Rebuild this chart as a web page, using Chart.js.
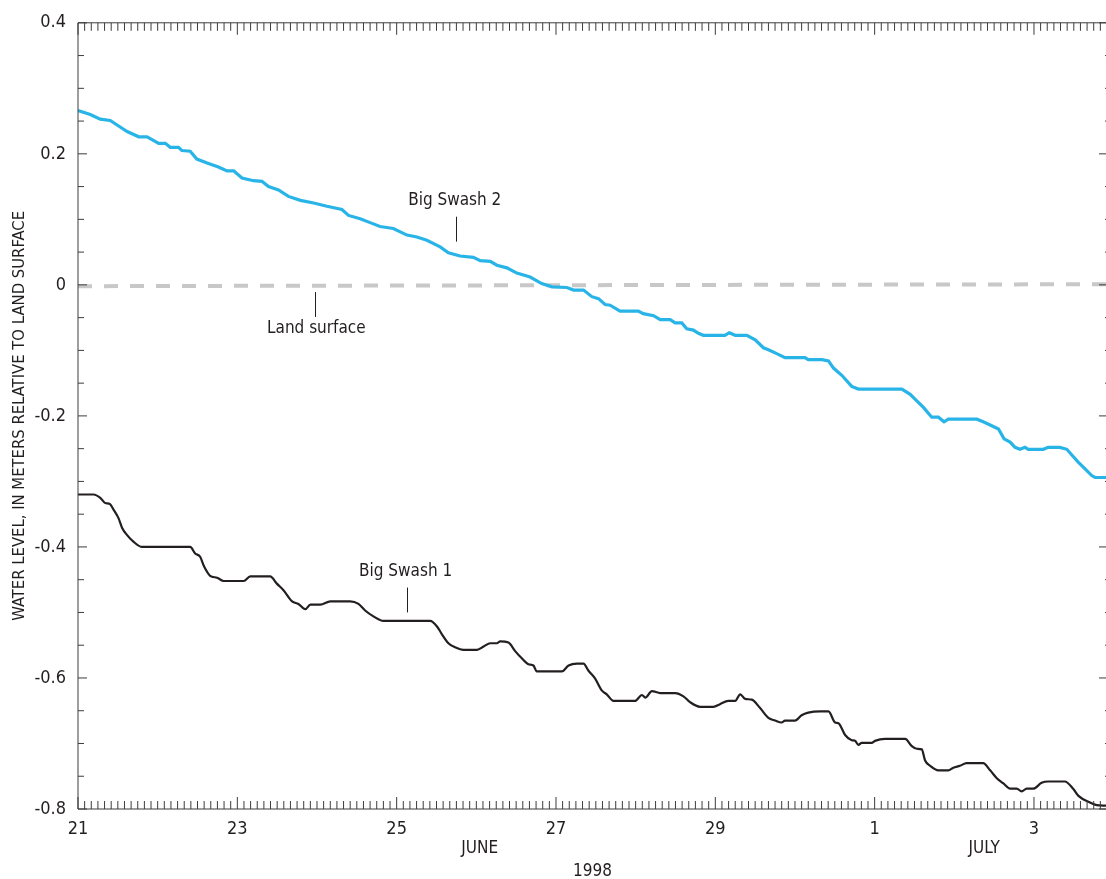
<!DOCTYPE html>
<html>
<head>
<meta charset="utf-8">
<title>Water level relative to land surface, Big Swash wells, June-July 1998</title>
<script src="https://cdn.jsdelivr.net/npm/chart.js@4.4.1/dist/chart.umd.min.js"></script>
<style>
  html, body { margin: 0; padding: 0; background: #ffffff; overflow: hidden; }
  #wrap { position: relative; width: 1106px; height: 879px; }
</style>
</head>
<body>
<div id="wrap"><canvas id="chart"></canvas></div>
<script>
// Time is counted in hours after 1998-06-21 00:00; levels are in meters relative to land surface.
const swash2Hours = [0, 3.7, 6.7, 9.7, 12.7, 14.8, 18.3, 20.8, 24.3, 26.3, 27.8, 30.3, 31.3, 33.8, 35.8, 38.9, 42.3, 44.9, 46.9, 49.4,
  52.9, 55.4, 57.4, 60.4, 63.4, 67.0, 71.0, 75.0, 79.5, 81.5, 85.0, 88.0, 91.0, 95.0, 99.1, 102.1, 105.1, 109.1, 111.6, 115.1,
  119.1, 121.2, 124.2, 126.2, 129.2, 132.2, 136.2, 139.7, 142.8, 147.3, 149.3, 152.3, 154.8, 156.8, 158.8, 160.3, 163.3, 168.8, 170.3, 173.4,
  175.4, 178.4, 179.9, 181.9, 183.4, 185.4, 186.9, 188.4, 194.9, 196.2, 198.0, 201.5, 204.0, 206.5, 208.0, 210.5, 213.0, 219.0, 220.0, 224.1,
  226.1, 227.6, 230.1, 233.1, 235.1, 248.2, 250.7, 252.7, 254.7, 257.2, 259.2, 260.9, 262.2, 270.8, 272.7, 274.8, 277.3, 279.0, 280.8, 282.3,
  283.8, 285.3, 286.3, 290.8, 292.3, 295.8, 297.9, 299.8, 301.4, 303.4, 305.4, 306.4, 309.7];
const swash2Level = [0.266, 0.260, 0.253, 0.251, 0.241, 0.234, 0.226, 0.226, 0.216, 0.216, 0.210, 0.210, 0.205, 0.204, 0.192, 0.186, 0.180, 0.174, 0.174, 0.163,
  0.159, 0.158, 0.150, 0.145, 0.135, 0.129, 0.125, 0.120, 0.115, 0.106, 0.101, 0.095, 0.089, 0.086, 0.076, 0.073, 0.068, 0.058, 0.049, 0.044,
  0.042, 0.037, 0.036, 0.030, 0.026, 0.018, 0.012, 0.002, -0.003, -0.004, -0.008, -0.008, -0.018, -0.021, -0.030, -0.031, -0.040, -0.040, -0.044, -0.047,
  -0.053, -0.053, -0.058, -0.058, -0.067, -0.069, -0.074, -0.077, -0.077, -0.073, -0.077, -0.077, -0.084, -0.096, -0.099, -0.105, -0.111, -0.111, -0.114, -0.114,
  -0.116, -0.127, -0.138, -0.155, -0.159, -0.159, -0.167, -0.177, -0.187, -0.202, -0.202, -0.209, -0.205, -0.205, -0.209, -0.214, -0.220, -0.235, -0.240, -0.248,
  -0.251, -0.248, -0.251, -0.251, -0.248, -0.248, -0.251, -0.262, -0.271, -0.281, -0.291, -0.294, -0.294];

const swash1Hours = [0, 4.7, 6.7, 8.2, 9.5, 10.7, 12.2, 13.3, 14.8, 16.7, 19.3, 33.8, 35.3, 36.8, 38.0, 39.8, 41.9, 43.9, 49.9, 51.9,
  57.9, 59.9, 61.9, 64.5, 66.4, 68.5, 70.0, 73.0, 76.0, 82.0, 84.5, 86.5, 89.0, 92.0, 106.1, 108.1, 109.6, 111.6, 113.6, 116.1,
  120.2, 122.2, 124.2, 126.2, 127.2, 129.7, 131.7, 133.7, 135.7, 137.2, 138.2, 145.8, 147.8, 150.3, 152.3, 153.8, 155.8, 157.8, 159.3, 161.3,
  167.8, 169.9, 170.9, 172.9, 175.4, 179.9, 182.4, 184.4, 187.4, 191.4, 193.4, 195.9, 198.0, 199.5, 201.0, 203.0, 205.5, 208.0, 210.0, 212.0,
  213.0, 216.0, 218.0, 220.0, 223.6, 226.1, 228.1, 229.1, 231.1, 233.1, 234.1, 235.1, 236.1, 239.1, 240.1, 243.1, 249.2, 251.2, 252.7, 254.2,
  255.2, 256.7, 259.2, 262.2, 263.7, 265.7, 267.7, 272.7, 274.8, 276.8, 278.8, 280.8, 282.8, 284.3, 285.8, 287.8, 290.3, 292.3, 297.3, 299.8,
  301.4, 304.9, 306.9, 309.7];
const swash1Level = [-0.320, -0.320, -0.325, -0.333, -0.334, -0.343, -0.356, -0.371, -0.382, -0.392, -0.400, -0.400, -0.410, -0.415, -0.430, -0.444, -0.447, -0.452, -0.452, -0.445,
  -0.445, -0.456, -0.466, -0.483, -0.487, -0.495, -0.488, -0.488, -0.483, -0.483, -0.487, -0.497, -0.506, -0.513, -0.513, -0.521, -0.533, -0.547, -0.553, -0.557,
  -0.557, -0.552, -0.547, -0.547, -0.544, -0.546, -0.559, -0.570, -0.579, -0.581, -0.590, -0.590, -0.581, -0.578, -0.578, -0.589, -0.601, -0.619, -0.625, -0.635,
  -0.635, -0.626, -0.630, -0.620, -0.623, -0.623, -0.628, -0.637, -0.644, -0.644, -0.640, -0.635, -0.635, -0.625, -0.632, -0.633, -0.646, -0.661, -0.665, -0.668,
  -0.665, -0.665, -0.657, -0.653, -0.651, -0.651, -0.668, -0.669, -0.687, -0.695, -0.696, -0.702, -0.699, -0.699, -0.696, -0.693, -0.693, -0.704, -0.708, -0.709,
  -0.726, -0.734, -0.741, -0.741, -0.737, -0.734, -0.730, -0.730, -0.741, -0.753, -0.761, -0.769, -0.769, -0.773, -0.769, -0.769, -0.760, -0.758, -0.758, -0.769,
  -0.780, -0.790, -0.794, -0.795];

const landHours = [0, 100, 200, 309.7];
const landLevel = [-0.002, -0.001, 0.000, 0.001];

const dayTickHours = [0, 48, 96, 144, 192, 240, 288];
const dayTickLabels = ['21', '23', '25', '27', '29', '1', '3'];
const levelTicks = [0.4, 0.2, 0, -0.2, -0.4, -0.6, -0.8];
const levelTickLabels = ['0.4', '0.2', '0', '-0.2', '-0.4', '-0.6', '-0.8'];

const monthLabels = ['JUNE', 'JULY'];
const monthHours = [121, 273];
const yearLabel = '1998';
const yearHour = 155;
const axisTitle = 'WATER LEVEL, IN METERS RELATIVE TO LAND SURFACE';

// Curve labels with their leader lines, placed in data units.
const curveNotes = [
  { text: 'Big Swash 2', hour: 113.5, level: 0.128, lineHour: 113.8, from: 0.104, to: 0.066 },
  { text: 'Land surface', hour: 71.8, level: -0.066, lineHour: 71.5, from: -0.011, to: -0.049 },
  { text: 'Big Swash 1', hour: 98.7, level: -0.438, lineHour: 99.2, from: -0.462, to: -0.500 }
];

const HOUR_MAX = 309.7;
const MINOR_HOURS = 2;
const MINOR_LEVEL = 0.05;
const FONT = "'Liberation Sans Narrow', 'Arial Narrow', 'DejaVu Sans Condensed', sans-serif";
const INK = '#231f20';

const toPoints = (xs, ys) => xs.map((x, i) => ({ x: x, y: ys[i] }));

// Draws the frame, inward ticks on all sides, and the text annotations.
const framePlugin = {
  id: 'frame',
  afterDraw(chart) {
    const { ctx, chartArea: a, scales: { x, y } } = chart;
    ctx.save();
    ctx.strokeStyle = '#3c3c3c';
    ctx.lineWidth = 1;
    ctx.beginPath();
    ctx.moveTo(a.left, a.bottom);
    ctx.lineTo(a.left, a.top);
    ctx.lineTo(a.right, a.top);
    ctx.moveTo(a.left, a.bottom);
    ctx.lineTo(a.right, a.bottom);
    for (let h = 0; h <= x.max + 0.001; h += MINOR_HOURS) {
      const px = x.getPixelForValue(h);
      const len = dayTickHours.includes(h) ? 12 : 8;
      ctx.moveTo(px, a.top); ctx.lineTo(px, a.top + len);
      ctx.moveTo(px, a.bottom); ctx.lineTo(px, a.bottom - len);
    }
    const nLevels = Math.round((y.max - y.min) / MINOR_LEVEL);
    const rightEdge = a.right + 5;
    for (let i = 0; i <= nLevels; i++) {
      const v = y.min + i * MINOR_LEVEL;
      const py = y.getPixelForValue(v);
      const major = i % 4 === 0;
      ctx.moveTo(a.left, py); ctx.lineTo(a.left + (major ? 9 : 6), py);
      ctx.moveTo(rightEdge, py); ctx.lineTo(rightEdge - (major ? 12 : 6), py);
    }
    ctx.stroke();

    ctx.fillStyle = INK;
    ctx.font = '17px ' + FONT;
    ctx.textAlign = 'center';
    ctx.textBaseline = 'middle';
    monthLabels.forEach((m, i) => ctx.fillText(m, x.getPixelForValue(monthHours[i]), a.bottom + 40));
    ctx.fillText(yearLabel, x.getPixelForValue(yearHour), a.bottom + 63);

    ctx.strokeStyle = INK;
    ctx.beginPath();
    curveNotes.forEach(n => {
      ctx.fillText(n.text, x.getPixelForValue(n.hour), y.getPixelForValue(n.level));
      const lx = Math.round(x.getPixelForValue(n.lineHour)) + 0.5;
      ctx.moveTo(lx, y.getPixelForValue(n.from));
      ctx.lineTo(lx, y.getPixelForValue(n.to));
    });
    ctx.stroke();

    ctx.font = '16.5px ' + FONT;
    ctx.translate(20, (a.top + a.bottom) / 2);
    ctx.rotate(-Math.PI / 2);
    ctx.fillText(axisTitle, 0, 0);
    ctx.restore();
  }
};

new Chart(document.getElementById('chart'), {
  type: 'line',
  data: {
    datasets: [
      {
        label: 'Big Swash 1',
        data: toPoints(swash1Hours, swash1Level),
        borderColor: INK,
        borderWidth: 2.2,
        pointRadius: 0,
        cubicInterpolationMode: 'monotone',
        order: 1
      },
      {
        label: 'Big Swash 2',
        data: toPoints(swash2Hours, swash2Level),
        borderColor: '#29b4e8',
        borderWidth: 3.2,
        pointRadius: 0,
        order: 2
      },
      {
        label: 'Land surface',
        data: toPoints(landHours, landLevel),
        borderColor: '#c8c8c8',
        borderWidth: 4,
        borderDash: [14, 12],
        pointRadius: 0,
        order: 3
      }
    ]
  },
  options: {
    responsive: true,
    maintainAspectRatio: false,
    animation: false,
    layout: { padding: { top: 18, right: 0, left: 0, bottom: 0 } },
    plugins: { legend: { display: false }, tooltip: { enabled: false } },
    scales: {
      x: {
        type: 'linear',
        min: 0,
        max: HOUR_MAX,
        grid: { display: false, drawTicks: false },
        border: { display: false },
        afterBuildTicks: s => { s.ticks = dayTickHours.map(v => ({ value: v })); },
        afterFit: s => { s.height = 70; },
        ticks: {
          autoSkip: false,
          maxRotation: 0,
          padding: 10,
          color: INK,
          font: { family: FONT, size: 18 },
          callback: (v, i) => dayTickLabels[i]
        }
      },
      y: {
        type: 'linear',
        min: -0.8,
        max: 0.4,
        grid: { display: false, drawTicks: false },
        border: { display: false },
        afterBuildTicks: s => { s.ticks = levelTicks.map(v => ({ value: v })); },
        afterFit: s => { s.width = 78; },
        ticks: {
          padding: 12,
          color: INK,
          font: { family: FONT, size: 18 },
          callback: (v, i) => levelTickLabels[i]
        }
      }
    }
  },
  plugins: [framePlugin]
});
</script>
</body>
</html>
